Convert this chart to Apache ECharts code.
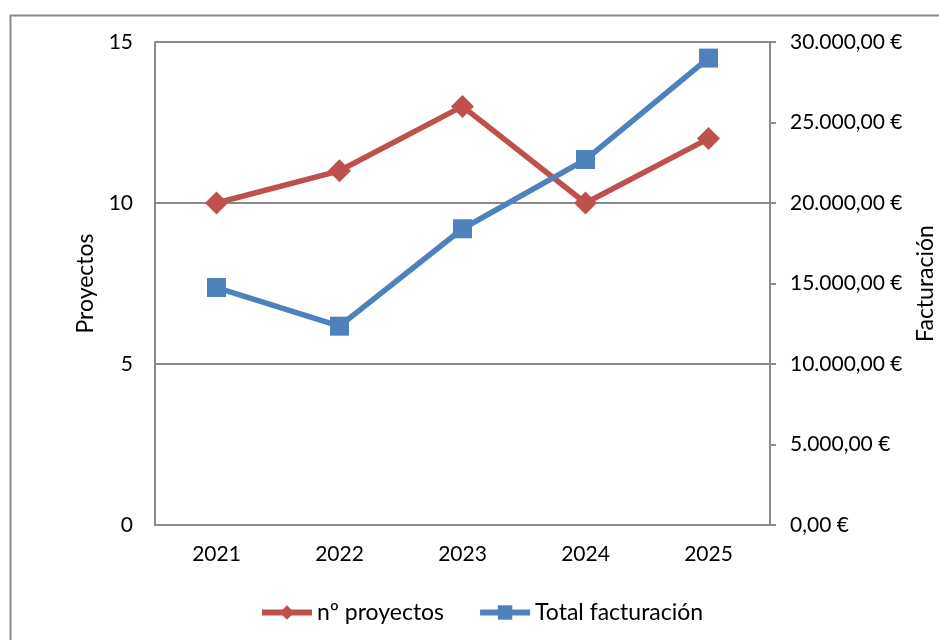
<!DOCTYPE html>
<html>
<head>
<meta charset="utf-8">
<script src="https://cdn.jsdelivr.net/npm/echarts@6/dist/echarts.min.js"></script>
<style>html,body{margin:0;padding:0;background:#fff}#c{width:939px;height:640px}</style>
</head>
<body>
<div id="c"></div>
<script>
const years = ['2021', '2022', '2023', '2024', '2025'];
const proyectos = [10, 11, 13, 10, 12];
const facturacion = [14750, 12350, 18400, 22700, 29000];
const seriesNames = ['nº proyectos', 'Total facturación'];
const axisNames = ['Proyectos', 'Facturación'];

const FONT = 'Lato';
const GRAY = '#8a8a8a';
function euro(v) {
  const parts = v.toFixed(2).split('.');
  const intp = parts[0].replace(/\B(?=(\d{3})+(?!\d))/g, '.');
  return intp + ',' + parts[1] + ' €';
}
const chart = echarts.init(document.getElementById('c'), null, {renderer: 'canvas'});
chart.setOption({
  animation: false,
  backgroundColor: '#fff',
  textStyle: {fontFamily: FONT},
  graphic: [{
    type: 'rect', left: 8, top: 13, shape: {width: 1000, height: 700},
    style: {fill: 'none', stroke: GRAY, lineWidth: 2}, silent: true, z: -1
  }],
  grid: {left: 155, right: 169, top: 42, bottom: 115, outerBoundsMode: 'none', containLabel: false},
  legend: {
    left: 254, top: 596,
    itemWidth: 50, itemHeight: 18, itemGap: 33,
    lineStyle: {width: 6},
    textStyle: {fontFamily: FONT, fontSize: 23, color: '#000'},
    data: seriesNames
  },
  xAxis: {
    type: 'category', data: years, boundaryGap: true,
    axisLine: {lineStyle: {color: GRAY, width: 2}},
    axisTick: {show: false},
    axisLabel: {fontFamily: FONT, fontSize: 21, color: '#000', margin: 19}
  },
  yAxis: [{
    type: 'value', min: 0, max: 15, interval: 5, position: 'left',
    name: axisNames[0], nameLocation: 'middle', nameRotate: 90, nameGap: 58,
    nameTextStyle: {fontFamily: FONT, fontSize: 23, color: '#000'},
    axisLine: {show: true, lineStyle: {color: GRAY, width: 2}},
    axisTick: {show: false},
    splitLine: {show: true, lineStyle: {color: GRAY, width: 2}},
    axisLabel: {fontFamily: FONT, fontSize: 21, color: '#000', margin: 22}
  }, {
    type: 'value', min: 0, max: 30000, interval: 5000, position: 'right',
    name: axisNames[1], nameLocation: 'middle', nameRotate: 90, nameGap: 144,
    nameTextStyle: {fontFamily: FONT, fontSize: 23, color: '#000'},
    axisLine: {show: true, lineStyle: {color: GRAY, width: 2}},
    axisTick: {show: true, length: 6, inside: false, lineStyle: {color: GRAY, width: 2}},
    splitLine: {show: false},
    axisLabel: {fontFamily: FONT, fontSize: 21, color: '#000', margin: 20, formatter: euro}
  }],
  series: [{
    name: seriesNames[0], type: 'line', yAxisIndex: 0, data: proyectos,
    symbol: 'diamond', symbolSize: 23,
    lineStyle: {color: '#C0504D', width: 5.5},
    itemStyle: {color: '#C0504D'}
  }, {
    name: seriesNames[1], type: 'line', yAxisIndex: 1, data: facturacion,
    symbol: 'rect', symbolSize: 19,
    lineStyle: {color: '#4F81BD', width: 5.5},
    itemStyle: {color: '#4F81BD'}
  }]
});
</script>
</body>
</html>
